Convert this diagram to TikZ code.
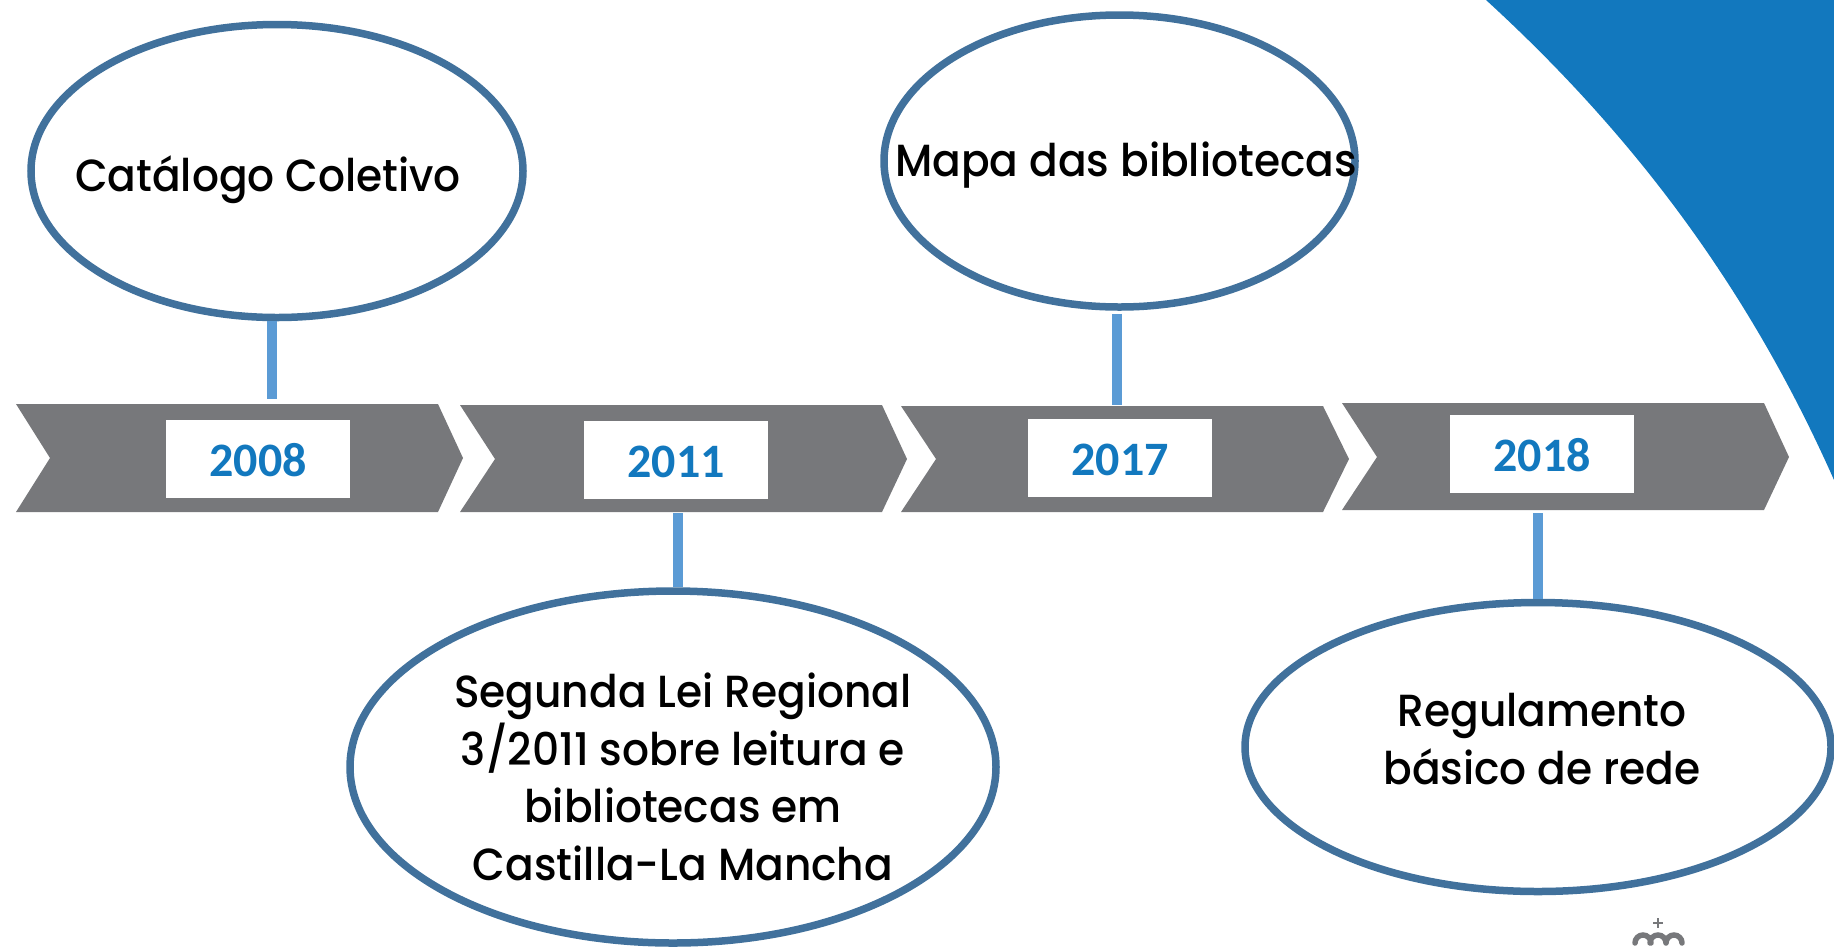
\documentclass[tikz,border=0pt]{standalone}
\usepackage{fontspec}
\usepackage{tikz}
\usetikzlibrary{shapes.geometric}
\setmainfont{Poppins}[UprightFont=* Medium,FakeStretch=0.94]
\newfontfamily\yearfont[Ligatures=TeX]{Carlito}
\definecolor{bandgray}{HTML}{77787B}
\definecolor{ringblue}{HTML}{41719C}
\definecolor{stemblue}{HTML}{5B9BD5}
\definecolor{yearblue}{HTML}{1278BE}
\tikzset{
    band/.style={fill=bandgray},
    bubble/.style={draw=ringblue,line width=7.5pt,ellipse,inner sep=0pt},
    bubbletext/.style={align=center,font=\fontsize{45}{57.5}\selectfont,inner sep=0pt},
    yearbox/.style={fill=white,minimum width=184pt,minimum height=78pt,inner sep=0pt,
        text height=35pt,text depth=0pt,
        text=yearblue,font=\yearfont\bfseries\fontsize{48}{50}\selectfont},
    stem/.style={draw=stemblue,line width=10pt}
}
\begin{document}
\begin{tikzpicture}[x=1pt,y=-1pt]
    \useasboundingbox (0,0) rectangle (1834,946);
    \fill[yearblue] (1486,0) .. controls (1638,139) and (1751,293) .. (1834,480) -- (1834,0) -- cycle;
    \fill[band] (16,404) -- (438,404) -- (463,458) -- (438,512) -- (16,512) -- (50,458) -- cycle;
    \fill[band] (460,405) -- (882,405) -- (907,459) -- (882,512) -- (460,512) -- (495,459) -- cycle;
    \fill[band] (901,406) -- (1323,406) -- (1349,459) -- (1323,512) -- (901,512) -- (936,459) -- cycle;
    \fill[band] (1342,403) -- (1764,403) -- (1789,457) -- (1764,510) -- (1342,510) -- (1377,457) -- cycle;
    \node[yearbox] (y2008) at (258,459) {2008};
    \node[yearbox] (y2011) at (676,460) {2011};
    \node[yearbox] (y2017) at (1120,458) {2017};
    \node[yearbox] (y2018) at (1542,454) {2018};
    \node[bubble,minimum width=492pt,minimum height=293pt] (catalogo) at (277,171) {};
    \node[bubble,minimum width=646pt,minimum height=352pt] (lei) at (673,767) {};
    \node[bubble,minimum width=471pt,minimum height=292pt] (mapa) at (1119.5,161) {};
    \node[bubble,minimum width=586pt,minimum height=289pt] (regulamento) at (1538,747) {};
    \node[bubbletext] (catalogotext) at (268,180) {Catálogo Coletivo};
    \node[bubbletext] (leitext) at (683,777) {Segunda Lei Regional\\3/2011 sobre leitura e\\bibliotecas em\\Castilla-La Mancha};
    \node[bubbletext] (mapatext) at (1126,165) {Mapa das bibliotecas};
    \node[bubbletext] (regulamentotext) at (1542,739) {Regulamento\\básico de rede};
    \coordinate (stema) at (272,399);
    \coordinate (stemb) at (678,513);
    \coordinate (stemc) at (1117,405);
    \coordinate (stemd) at (1538,513);
    \draw[stem] (catalogo.south -| stema) -- (stema);
    \draw[stem] (lei.north -| stemb) -- (stemb);
    \draw[stem,shorten <=3pt] (mapa.south -| stemc) -- (stemc);
    \draw[stem] (regulamento.north -| stemd) -- (stemd);
    \draw[bandgray,line width=2.5pt] (1658,918) -- (1658,928) (1653,923) -- (1663,923);
    \draw[bandgray,line width=5.5pt,line cap=round] (1635,943) arc (180:360:8) (1650,943) arc (180:360:8) (1666,943) arc (180:360:8);
\end{tikzpicture}
\end{document}
